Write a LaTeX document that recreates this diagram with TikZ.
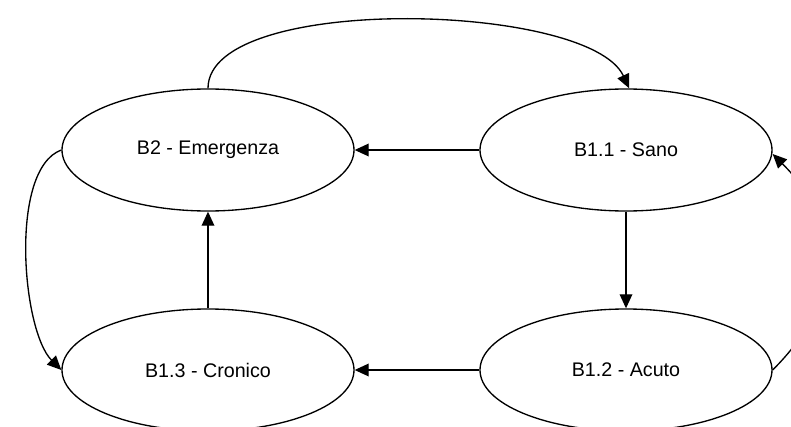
\documentclass[tikz,border=0pt]{standalone}
\usepackage{fontspec}
\setmainfont{Liberation Sans}
\usetikzlibrary{shapes.geometric, positioning, arrows.meta}

\begin{document}
\begin{tikzpicture}[
    node distance=5.5cm and 10.45cm,
    on grid,
    every node/.style={font=\fontsize{14}{17}\selectfont},
    stato/.style={ellipse, draw, line width=0.95pt, minimum width=7.3cm, minimum height=3.05cm, inner sep=0pt},
    every edge/.append style={line width=0.95pt, -{Triangle[length=10pt, width=9pt]}}
]

   % area visibile (il disegno originale e' tagliato in basso e a destra)
   \useasboundingbox (-5.2,-6.9) rectangle (14.575,3.75);
   \clip (-5.2,-6.9) rectangle (14.575,3.75);

   % Stati
   \node[stato] (emerg) {B2 - Emergenza};
   \node[stato] (sano) [right=of emerg] {B1.1 - Sano};
   \node[stato] (cronico) [below=of emerg] {B1.3 - Cronico};
   \node[stato] (acuto) [right=of cronico] {B1.2 - Acuto};

   % Transizioni dirette
   \path
     (sano) edge (emerg)
     (sano) edge (acuto)
     (acuto) edge (cronico)
     (cronico) edge (emerg);

   % Transizioni curve
   \path
     (emerg.north) edge[out=90, in=115, looseness=0.58] ([xshift=0.08cm]sano.north)
     (emerg.west) edge[out=200, in=135, looseness=0.65] (cronico.west)
     (acuto.east) edge[out=45, in=-45, looseness=1.2] ([yshift=-0.1cm]sano.east);

\end{tikzpicture}
\end{document}
